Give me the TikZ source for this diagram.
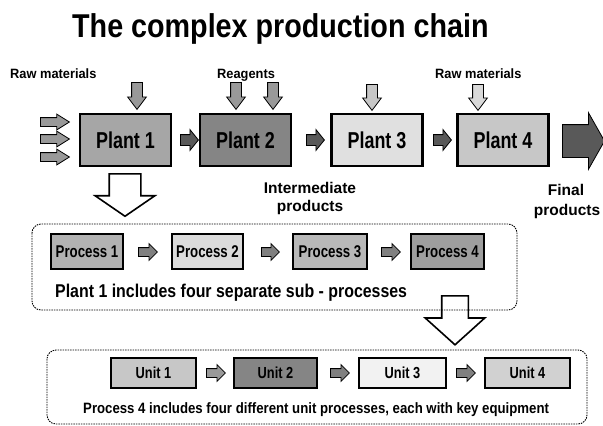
\documentclass[tikz,border=0pt]{standalone}
\usepackage{fontspec}
\setmainfont{Liberation Sans}
\usetikzlibrary{shapes.arrows,calc}
\newcommand{\sx}[2]{\scalebox{#1}[1]{#2}}
\begin{document}
\begin{tikzpicture}[x=1pt,y=-1pt,
  lbl/.style={inner sep=0pt, anchor=base west},
  lblc/.style={inner sep=0pt, anchor=base},
  plantbox/.style={draw=black, line width=2.4pt, minimum width=91pt, minimum height=52pt, inner sep=0pt, font=\bfseries\fontsize{23}{23}\selectfont},
  procbox/.style={draw=black, line width=2pt, minimum height=35pt, inner sep=0pt, font=\bfseries\fontsize{17}{17}\selectfont},
  unitbox/.style={draw=black, line width=2pt, minimum height=30pt, inner sep=0pt, font=\bfseries\fontsize{16}{16}\selectfont},
  blockarr/.style={single arrow, draw=black, line width=0.8pt, anchor=tail, single arrow head indent=0pt},
  smallR/.style={blockarr, fill=black!65, inner sep=5pt, minimum height=18pt, single arrow head extend=5pt, single arrow tip angle=102},
  inR/.style={blockarr, fill=black!40, inner sep=4pt, minimum height=29pt, single arrow head extend=3.5pt, single arrow tip angle=64},
  downA/.style={blockarr, shape border rotate=270, inner sep=5pt, minimum height=27pt, single arrow head extend=4pt, single arrow tip angle=74},
  finalA/.style={blockarr, fill=black!65, inner sep=16pt, minimum height=34pt, single arrow head extend=12pt, single arrow tip angle=121},
  procA/.style={blockarr, fill=black!50, inner sep=4pt, minimum height=19pt, single arrow head extend=4pt, single arrow tip angle=90},
  bigA/.style={blockarr, shape border rotate=270, fill=white, line width=1.6pt},
  dashbox/.style={draw=black, line width=0.9pt, dash pattern=on 1.5pt off 1pt, rounded corners=9pt}
]
\useasboundingbox[fill=white] (0,0) rectangle (603,426);

% Title
\node[lbl, font=\bfseries\fontsize{33}{33}\selectfont] (title) at (72,37) {\sx{0.87}{The complex production chain}};

% Top labels
\node[lbl, font=\bfseries\fontsize{13.5}{13.5}\selectfont] (raw1) at (10,78) {\sx{0.95}{Raw materials}};
\node[lbl, font=\bfseries\fontsize{13.5}{13.5}\selectfont] (reag) at (217,78) {\sx{0.95}{Reagents}};
\node[lbl, font=\bfseries\fontsize{13.5}{13.5}\selectfont] (raw2) at (435,78) {\sx{0.95}{Raw materials}};

% Plants
\node[plantbox, fill=black!35] (p1) at (125.5,140) {\sx{0.78}{Plant 1}};
\node[plantbox, fill=black!48] (p2) at (245.5,140) {\sx{0.78}{Plant 2}};
\node[plantbox, fill=black!12] (p3) at (377,140) {\sx{0.78}{Plant 3}};
\node[plantbox, fill=black!22] (p4) at (503,140) {\sx{0.78}{Plant 4}};

% Input arrows
\node[inR] (in1) at (40,122) {};
\node[inR] (in2) at (40,139) {};
\node[inR] (in3) at (40,157) {};

% Top arrows
\node[downA, fill=black!40] (d1) at (137,82) {};
\node[downA, fill=black!40] (d2) at (236,82) {};
\node[downA, fill=black!40] (d3) at (273,82) {};
\node[downA, fill=black!22, minimum height=26pt] (d4) at (372,84) {};
\node[downA, fill=black!15, minimum height=26pt] (d5) at (478,84) {};

% Between plants
\node[smallR] (a12) at (180,140) {};
\node[smallR] (a23) at (306,140) {};
\node[smallR] (a34) at (433,140) {};
\node[finalA] (fin) at (562,141) {};

% Intermediate / final labels
\node[lblc, font=\bfseries\fontsize{15.5}{15.5}\selectfont] (int1) at (310,193) {Intermediate};
\node[lblc, font=\bfseries\fontsize{15.5}{15.5}\selectfont] (int2) at (310,211) {products};
\node[lblc, font=\bfseries\fontsize{15.5}{15.5}\selectfont] (fin1) at (566,195) {Final};
\node[lblc, font=\bfseries\fontsize{15.5}{15.5}\selectfont] (fin2) at (567,215) {products};

% Big hollow arrow 1
\node[bigA, inner sep=15pt, minimum height=42pt, single arrow head extend=14pt, single arrow tip angle=111] (big1) at (125,173) {};

% Big hollow arrow 2
\node[bigA, inner sep=12.5pt, minimum height=49pt, single arrow head extend=16.5pt, single arrow tip angle=96] (big2) at (455,295) {};

% Dashed box 1
\draw[dashbox] (32,224) rectangle (517,310);
% Dashed box 2
\draw[dashbox] (47,350) rectangle (587,424);

% Processes
\node[procbox, fill=black!30, minimum width=72pt] (pr1) at (87,251.5) {\sx{0.78}{Process 1}};
\node[procbox, fill=black!14, minimum width=71pt] (pr2) at (207.5,251.5) {\sx{0.78}{Process 2}};
\node[procbox, fill=black!28, minimum width=74pt] (pr3) at (330,251.5) {\sx{0.78}{Process 3}};
\node[procbox, fill=black!38, minimum width=73pt] (pr4) at (447.5,251.5) {\sx{0.78}{Process 4}};
\node[procA] (b12) at (138,252) {};
\node[procA, minimum height=18pt] (b23) at (261,252) {};
\node[procA] (b34) at (381,252) {};
\node[lbl, font=\bfseries\fontsize{18.5}{18.5}\selectfont] (sub) at (55,297) {\sx{0.86}{Plant 1 includes four separate sub - processes}};

% Units
\node[unitbox, fill=black!22, minimum width=85pt] (u1) at (153.5,373) {\sx{0.8}{Unit 1}};
\node[unitbox, fill=black!48, minimum width=83pt] (u2) at (275.5,373) {\sx{0.8}{Unit 2}};
\node[unitbox, fill=black!5, minimum width=87pt] (u3) at (402.5,373) {\sx{0.8}{Unit 3}};
\node[unitbox, fill=black!18, minimum width=85pt] (u4) at (527.5,373) {\sx{0.8}{Unit 4}};
\node[procA, fill=black!40] (c12) at (206,373) {};
\node[procA] (c23) at (330,373) {};
\node[procA] (c34) at (456,373) {};
\node[lbl, font=\bfseries\fontsize{15}{15}\selectfont] (usub) at (83,413) {\sx{0.88}{Process 4 includes four different unit processes, each with key equipment}};
\end{tikzpicture}
\end{document}
